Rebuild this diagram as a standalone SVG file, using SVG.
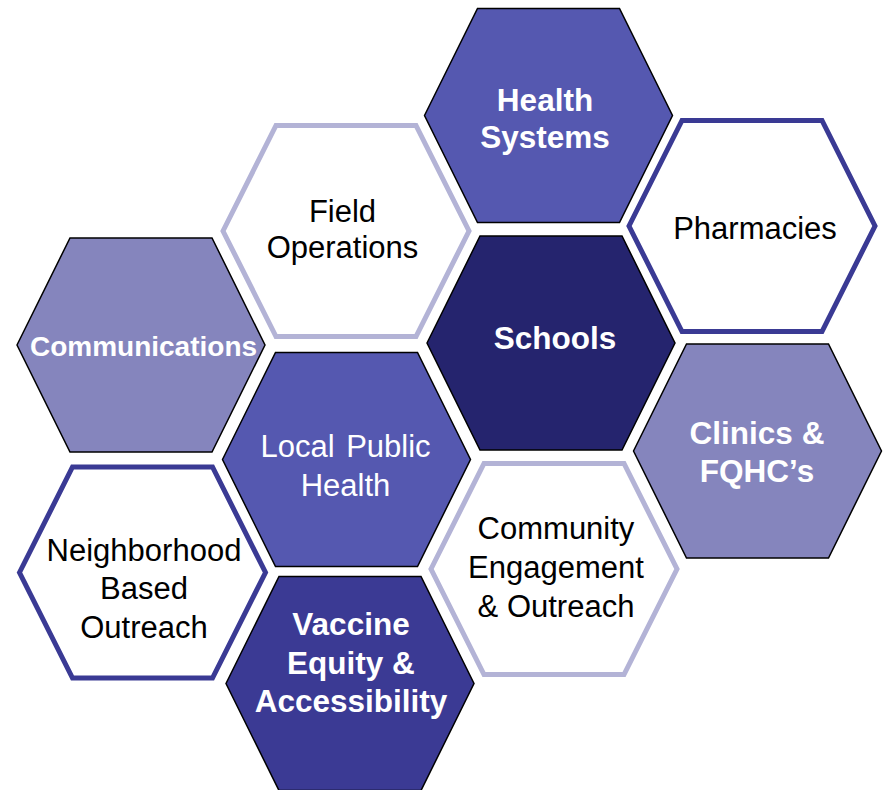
<svg xmlns="http://www.w3.org/2000/svg" xmlns:xlink="http://www.w3.org/1999/xlink" width="885" height="790" viewBox="0 0 885 790">
<defs>
<polygon id="hexF" points="-124,0 -71,-107 71,-107 124,0 71,107 -71,107"/>
<polygon id="hexO" points="-123,0 -70,-105.5 70,-105.5 123,0 70,105.5 -70,105.5"/>
<style>
.f { stroke: #000; stroke-width: 1.5; stroke-linejoin: miter; }
.mid { fill: #5558B0; }
.dark { fill: #25246E; }
.deep { fill: #3B3A94; }
.light { fill: #8585BD; }
.ol { fill: #FFFFFF; stroke-width: 5; stroke-linejoin: miter; }
.olL { stroke: #B3B3D6; }
.olD { stroke: #3A3A94; }
text { font-family: "Liberation Sans", Arial, sans-serif; text-anchor: middle; }
.tb { font-weight: bold; fill: #FFFFFF; font-size: 31.5px; }
.tw { fill: #FFFFFF; font-size: 31px; }
.tk { fill: #000000; font-size: 31px; }
</style>
</defs>
<rect width="885" height="790" fill="#FFFFFF"/>
<g id="connectors"/>
<g id="health-systems">
<use xlink:href="#hexF" x="548.5" y="115.5" class="f mid"/>
<text class="tb" x="545" y="110.5">Health</text>
<text class="tb" x="545" y="148">Systems</text>
</g>
<g id="field-operations">
<use xlink:href="#hexO" x="346" y="231" class="ol olL"/>
<text class="tk" x="342.5" y="221.5">Field</text>
<text class="tk" x="342.5" y="257.5">Operations</text>
</g>
<g id="pharmacies">
<use xlink:href="#hexO" x="752" y="226" class="ol olD"/>
<text class="tk" x="755" y="239">Pharmacies</text>
</g>
<g id="communications">
<use xlink:href="#hexF" x="141" y="345" class="f light"/>
<text class="tb" x="143.5" y="356" style="font-size:28px">Communications</text>
</g>
<g id="schools">
<use xlink:href="#hexF" x="551" y="343" class="f dark"/>
<text class="tb" x="555" y="348.5">Schools</text>
</g>
<g id="clinics">
<use xlink:href="#hexF" x="757.5" y="451" class="f light"/>
<text class="tb" x="757" y="443.5">Clinics &amp;</text>
<text class="tb" x="757" y="481.5">FQHC’s</text>
</g>
<g id="local-public-health">
<use xlink:href="#hexF" x="346.5" y="459.5" class="f mid"/>
<text class="tw" x="345.5" y="456.5" style="word-spacing:3px">Local Public</text>
<text class="tw" x="345.5" y="496">Health</text>
</g>
<g id="neighborhood">
<use xlink:href="#hexO" x="142.5" y="572.5" class="ol olD"/>
<text class="tk" x="144" y="561">Neighborhood</text>
<text class="tk" x="144" y="598.5">Based</text>
<text class="tk" x="144" y="638">Outreach</text>
</g>
<g id="community">
<use xlink:href="#hexO" x="554" y="569" class="ol olL"/>
<text class="tk" x="556" y="539">Community</text>
<text class="tk" x="556" y="578">Engagement</text>
<text class="tk" x="556" y="616.5">&amp; Outreach</text>
</g>
<g id="vaccine">
<use xlink:href="#hexF" x="350" y="683.5" class="f deep"/>
<text class="tb" x="351" y="635">Vaccine</text>
<text class="tb" x="351" y="674">Equity &amp;</text>
<text class="tb" x="351" y="711.5">Accessibility</text>
</g>
</svg>
